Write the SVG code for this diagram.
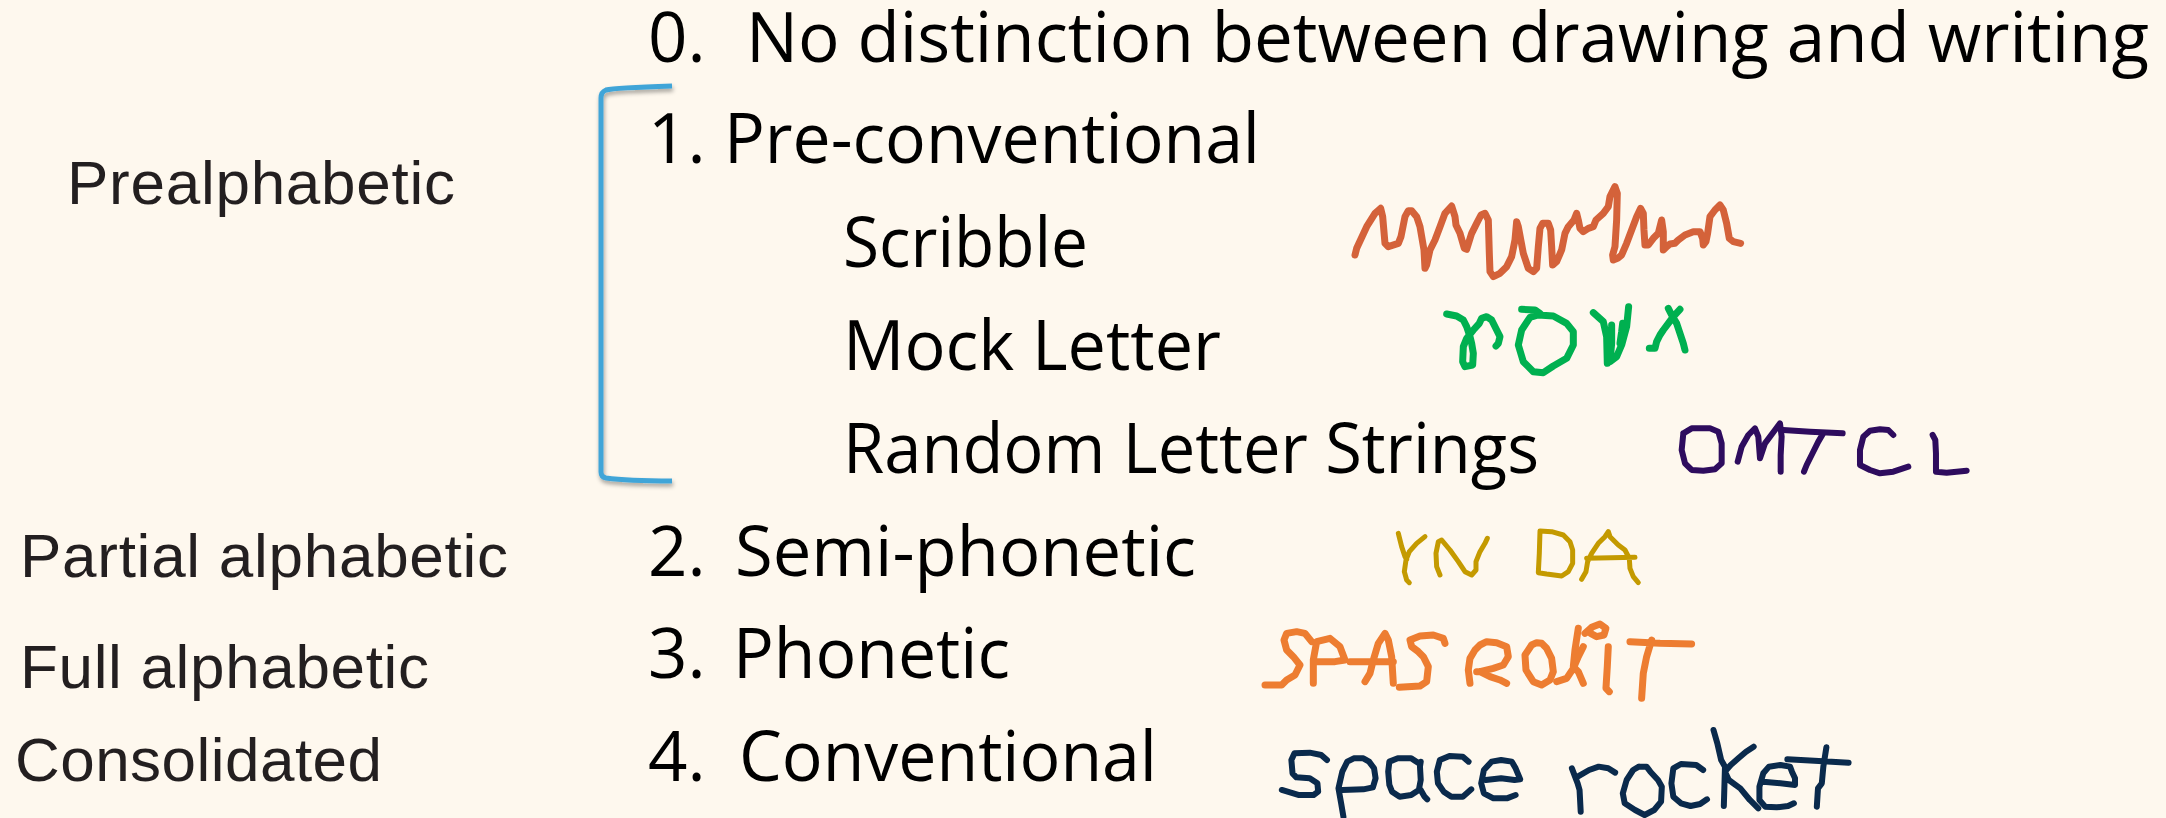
<svg xmlns="http://www.w3.org/2000/svg" width="2166" height="818" viewBox="0 0 2166 818">
<style>
.lab{font-family:"Liberation Sans",Arial,sans-serif;font-size:62px;fill:#231F20}
.item{font-family:"Open Sans","Noto Sans",sans-serif;font-size:69px;fill:#000}
.hw{fill:none;stroke-linecap:round;stroke-linejoin:round;vector-effect:non-scaling-stroke}
</style>
<defs>
<filter id="sh" x="-20%" y="-5%" width="140%" height="115%">
<feDropShadow dx="1" dy="3" stdDeviation="2" flood-color="#000" flood-opacity="0.35"/>
</filter>
</defs>
<rect x="0" y="0" width="2166" height="818" fill="#FEF8EE"/>

<g id="stage-labels">
<text id="lab-prealphabetic" class="lab" x="67" y="204" textLength="388" lengthAdjust="spacing">Prealphabetic</text>
<text id="lab-partial" class="lab" x="20" y="577" textLength="488" lengthAdjust="spacing">Partial alphabetic</text>
<text id="lab-full" class="lab" x="20" y="688" textLength="409" lengthAdjust="spacing">Full alphabetic</text>
<text id="lab-consolidated" class="lab" x="15" y="781" textLength="367" lengthAdjust="spacing">Consolidated</text>
</g>

<g id="connectors">
<path d="M672,86 C640,87 614,88 606,90 Q601,92 601,98 L601,472 Q601,477 606,478 C620,480 645,481 672,481" fill="none" stroke="#41A5D8" stroke-width="5" filter="url(#sh)"/>
</g>

<g id="item-0">
<text class="item" x="648" y="62">0.</text>
<text class="item" x="746" y="62" textLength="1403" lengthAdjust="spacingAndGlyphs">No distinction between drawing and writing</text>
</g>
<g id="item-1">
<text class="item" x="648" y="163">1.</text>
<text class="item" x="724" y="163" textLength="536" lengthAdjust="spacingAndGlyphs">Pre-conventional</text>
</g>
<g id="sub-scribble">
<text class="item" x="843" y="267" textLength="245" lengthAdjust="spacingAndGlyphs">Scribble</text>
<path class="hw" stroke="#D4623A" stroke-width="7" transform="translate(1320,180) scale(0.3333)" d="M105,225 L110,205 L140,140 L165,100 L182,85 L188,110 L195,190 L205,200 L235,190 L243,170 L255,110 L265,92 L275,92 L290,110 L300,140 L312,210 L315,265 L320,255 L330,210 L345,180 L360,140 L375,100 L395,78 L405,110 L408,135 L420,160 L433,205 L440,208 L455,160 L470,130 L483,105 L495,100 L505,120 L508,220 L510,275 L520,290 L540,280 L560,260 L575,230 L585,180 L590,125 L595,140 L610,220 L625,265 L640,275 L650,265 L655,200 L660,145 L668,130 L685,130 L692,150 L695,200 L698,255 L710,245 L725,210 L735,160 L745,140 L762,120 L770,100 L775,120 L780,145 L790,155 L805,145 L820,140 L828,120 L850,100 L865,80 L870,50 L885,20 L892,40 L890,120 L885,200 L878,225 L880,240 L893,235 L905,225 L920,190 L935,150 L950,110 L962,85 L970,100 L972,150 L975,195 L985,195 L1000,175 L1015,160 L1025,120 L1030,155 L1030,210 L1040,200 L1050,192 L1065,190 L1075,180 L1095,165 L1120,155 L1140,155 L1148,175 L1150,195 L1158,185 L1163,160 L1170,110 L1185,90 L1200,75 L1210,90 L1220,130 L1228,175 L1240,185 L1262,190"/>
</g>
<g id="sub-mock">
<text class="item" x="843" y="370" textLength="378" lengthAdjust="spacingAndGlyphs">Mock Letter</text>
<g class="hw" stroke="#00B050" stroke-width="7" transform="translate(1420,290) scale(0.3333)">
<path class="hw" d="M80,72 L110,78 L130,90 L140,110 L150,140 L155,160 L160,190 L158,225 L135,230 L128,215 L130,170 L140,145 L160,120 L178,100 L185,85 L200,80 L215,90 L230,120 L240,140 L235,160 L228,168"/>
<path class="hw" d="M305,58 L345,60 L360,70 M355,75 L330,82 L305,120 L295,165 L310,215 L340,245 L370,248 L400,228 L440,205 L460,165 L460,125 L440,100 L400,78 L355,75"/>
<path class="hw" d="M520,68 L550,95 L560,140 L562,220 M575,105 L575,160 L570,215 L590,200 L605,165 L620,110 L626,50 M600,160 L605,125 L608,100"/>
<path class="hw" d="M745,55 L755,75 L770,100 L780,130 L790,160 L795,180 M780,58 L760,80 L745,100 L730,120 L720,135 L710,155 L705,175 L688,175"/>
</g>
</g>
<g id="sub-random">
<text class="item" x="843" y="473" textLength="696" lengthAdjust="spacingAndGlyphs">Random Letter Strings</text>
<g class="hw" stroke="#2E0C5E" stroke-width="6" transform="translate(1660,400) scale(0.3333)">
<path class="hw" d="M70,100 L95,85 L150,85 L175,95 L185,130 L185,190 L165,208 L130,212 L95,210 L75,190 L65,150 L70,100"/>
<path class="hw" d="M233,185 L245,140 L265,105 L285,85 L295,110 L300,175 L315,130 L345,90 L360,70 L365,110 L362,165 L362,215"/>
<path class="hw" d="M370,90 L450,95 L548,100 M490,100 L475,125 L455,165 L440,195 L432,215"/>
<path class="hw" d="M700,105 L685,90 L660,88 L630,92 L610,110 L600,150 L600,195 L630,210 L660,220 L700,215 L745,200"/>
<path class="hw" d="M818,105 L826,120 L828,160 L828,215 L860,218 L920,212"/>
</g>
</g>
<g id="item-2">
<text class="item" x="648" y="576">2.</text>
<text class="item" x="735" y="576" textLength="461" lengthAdjust="spacingAndGlyphs">Semi-phonetic</text>
<g class="hw" stroke="#C49A00" stroke-width="5" transform="translate(1370,510) scale(0.3333)">
<path class="hw" d="M85,70 L95,110 L105,140 L110,148 M165,80 L140,100 L118,125 L108,150 L103,185 L110,210 L118,218"/>
<path class="hw" d="M210,195 L200,170 L198,130 L205,95 L215,90 L240,120 L265,155 L285,185 L305,195 L318,180 L318,155 L330,125 L345,100 L352,85"/>
<path class="hw" d="M510,65 L508,130 L505,188 L530,192 L575,198 L595,185 L608,160 L608,120 L600,95 L580,75 L545,65 L510,63"/>
<path class="hw" d="M635,208 L648,185 L653,155 L665,130 L685,100 L705,80 L715,65 L720,80 L745,105 L765,120 L778,145 L780,175 L790,200 L805,218 M650,145 L795,142"/>
</g>
</g>
<g id="item-3">
<text class="item" x="648" y="678">3.</text>
<text class="item" x="733" y="678" textLength="277" lengthAdjust="spacingAndGlyphs">Phonetic</text>
<g class="hw" stroke="#ED7D31" stroke-width="7" transform="translate(1250,600) scale(0.3333)">
<path class="hw" d="M45,255 L95,255 L110,240 L135,225 L150,195 L130,170 L110,150 L102,120 L110,100 L140,95 L165,100 L185,125"/>
<path class="hw" d="M190,250 L190,180 L200,125 L240,115 L270,140 L285,180 L255,185 L200,185"/>
<path class="hw" d="M345,245 L360,220 L370,180 L385,130 L405,100 L415,120 L425,170 L430,250 M300,185 L430,185"/>
<path class="hw" d="M448,262 L510,258 L530,245 L535,200 L520,170 L505,155 L485,140 L480,120 L510,108 L550,105 L580,115 L585,130"/>
<path class="hw" d="M660,250 L655,210 L660,175 L675,150 L690,135 L710,125 L740,128 L770,140 L775,170 L760,195 L730,205 L690,215 L680,215 M690,215 L720,230 L750,240 L770,250"/>
<path class="hw" d="M845,135 L825,165 L828,210 L850,245 L875,255 L900,240 L910,215 L905,175 L890,145 L875,130 L860,128 L845,135"/>
<path class="hw" d="M985,85 L975,150 L970,200 L985,215 L1000,250 M920,245 L950,235 L970,205 L985,170 L1000,140 M1005,100 L1025,82 L1050,72 L1068,85 L1062,105 L1040,110 L1022,100 L1020,90"/>
<path class="hw" d="M1075,140 L1072,200 L1068,265 L1078,275"/>
<path class="hw" d="M1140,125 L1230,130 L1325,132 M1205,120 L1190,170 L1180,220 L1175,295"/>
</g>
</g>
<g id="item-4">
<text class="item" x="648" y="781">4.</text>
<text class="item" x="739" y="781" textLength="418" lengthAdjust="spacingAndGlyphs">Conventional</text>
<g class="hw" stroke="#0A2A4C" stroke-width="6" transform="translate(1260,700) scale(0.3827,0.3333)">
<path class="hw" d="M175,180 L160,165 L130,158 L90,160 L82,180 L85,220 L95,232 L130,235 L150,250 L152,275 L140,285 L100,285 L57,270"/>
<path class="hw" d="M218,350 L212,310 L205,265 L210,240 L215,215 L228,185 L245,175 L270,175 L285,185 L298,205 L302,235 L295,262 L270,268 L215,270"/>
<path class="hw" d="M415,190 L395,175 L360,175 L338,185 L335,215 L338,255 L345,275 L365,290 L395,285 L415,270 L420,240 L418,200 L420,185 M420,270 L430,290 L437,298"/>
<path class="hw" d="M545,185 L530,170 L495,168 L470,180 L462,215 L465,250 L480,275 L500,290 L530,290 L552,268"/>
<path class="hw" d="M590,240 L630,235 L665,240 L680,238 L668,205 L658,185 L630,180 L605,185 L585,210 L578,250 L585,280 L610,295 L645,295 L668,285"/>
<path class="hw" d="M815,205 L830,250 L835,270 L838,335 M830,230 L860,210 L885,200 L910,205 L928,218"/>
<path class="hw" d="M990,200 L975,210 L958,240 L948,280 L953,310 L980,330 L1005,345 L1030,330 L1048,305 L1050,260 L1040,240 L1020,215 L1010,200 L990,200"/>
<path class="hw" d="M1158,210 L1140,195 L1100,192 L1080,205 L1075,250 L1080,290 L1100,310 L1125,318 L1150,312 L1168,298"/>
<path class="hw" d="M1185,90 L1195,130 L1205,180 L1215,200 L1212,318 M1290,140 L1270,155 L1250,175 L1230,195 L1215,215 L1225,240 L1255,265 L1280,300 L1302,325"/>
<path class="hw" d="M1315,245 L1360,250 L1398,255 L1398,235 L1390,215 L1385,200 L1360,195 L1330,200 L1315,220 L1305,260 L1305,300 L1320,320 L1350,322 L1380,318 L1395,310"/>
<path class="hw" d="M1378,178 L1460,183 L1538,188 M1480,142 L1472,200 L1468,250 L1458,265 L1455,320"/>
</g>
</g>
</svg>
